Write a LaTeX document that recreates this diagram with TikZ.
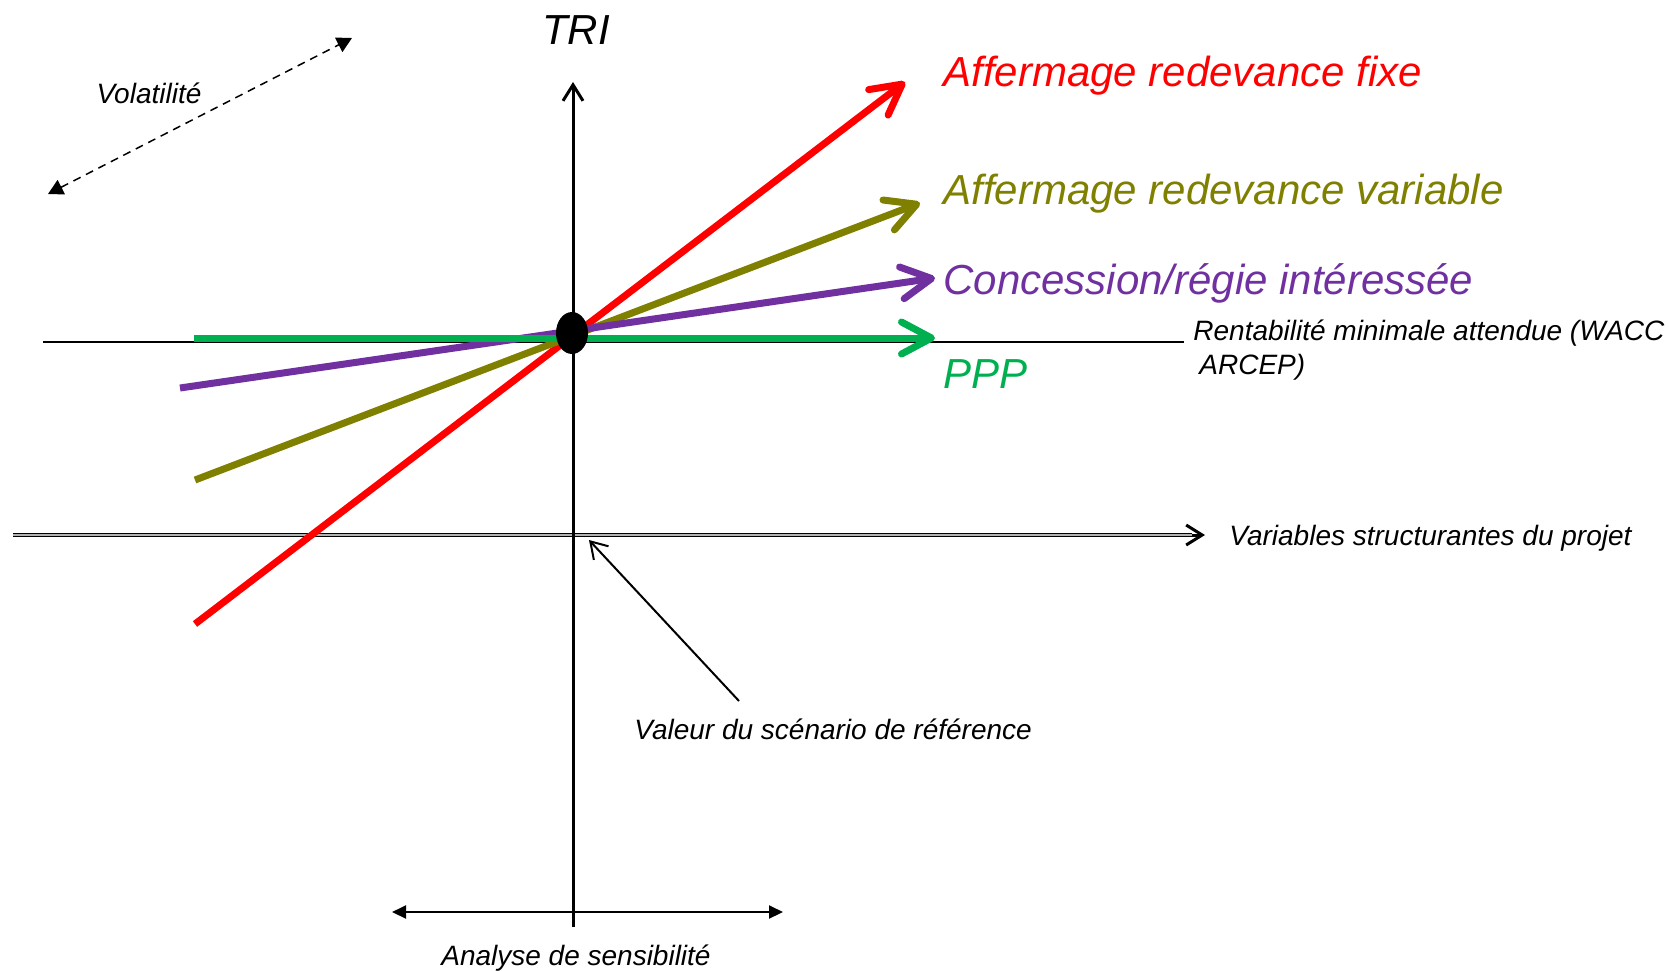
\documentclass[tikz,border=0pt]{standalone}
\usepackage{fontspec}
\setmainfont{Liberation Sans}
\usetikzlibrary{arrows.meta, positioning, shapes.geometric}

\definecolor{fixred}{RGB}{255,0,0}
\definecolor{varolive}{RGB}{128,128,0}
\definecolor{concpurple}{RGB}{112,48,160}
\definecolor{pppgreen}{RGB}{0,176,80}

\begin{document}
\begin{tikzpicture}[
  x=0.5pt, y=-0.5pt,
  big/.style={
    font=\fontsize{21}{25}\selectfont\itshape,
    inner sep=0pt,
    anchor=west
  },
  small/.style={
    font=\fontsize{14}{17}\selectfont\itshape,
    inner sep=0pt,
    align=left
  },
  axis/.style={line width=1.5pt},
  scenario/.style={
    line width=3.5pt,
    -{Straight Barb[length=15pt, width=16pt, line cap=round, line join=round]}
  },
  opentip/.style={-{Straight Barb[length=8pt, width=10pt]}},
  filltip/.style={{Triangle[length=7pt, width=6.5pt]}-{Triangle[length=7pt, width=6.5pt]}}
]
\useasboundingbox (0,0) rectangle (1669,970);

% ============================================================
% Axes
% ============================================================

\coordinate (ybot) at (573,927);
\coordinate (ytop) at (573,82);
\coordinate (xleft) at (13,535);
\coordinate (xend) at (1192,535);
\coordinate (xtip) at (1205,535);
\coordinate (waccl) at (43,342);
\coordinate (waccr) at (1184,342);

\draw[line width=1pt] (waccl) -- (waccr);
\draw[line width=0.6pt, double=gray!60, double distance=0.6pt] (xleft) -- (xend);
\draw[line width=1.5pt, opentip] (xend) -- (xtip);

\node[font=\fontsize{21}{25}\selectfont\itshape, inner sep=0pt] (tri) at (576,30) {TRI};

% ============================================================
% Scenarios
% ============================================================

\coordinate (redstart) at (195,624);
\coordinate (redend) at (905,82);
\coordinate (olivestart) at (195,480);
\coordinate (oliveend) at (920,203);
\coordinate (purplestart) at (180,388);
\coordinate (purpleend) at (935,278);
\coordinate (greenstart) at (194,338);
\coordinate (greenend) at (935,338);

\draw[scenario, fixred] (redstart) -- (redend);
\draw[scenario, varolive] (olivestart) -- (oliveend);
\draw[scenario, concpurple] (purplestart) -- (purpleend);
\draw[scenario, pppgreen] (greenstart) -- (greenend);

\draw[axis, opentip] (ybot) -- (ytop);

\node[ellipse, fill=black, minimum width=16pt, minimum height=21pt, inner sep=0pt] (ref) at (572,333) {};

\node[big, text=fixred] (fixe) at (943,76) {Affermage redevance fixe};
\node[big, text=varolive] (variable) at (943,194) {Affermage redevance variable};
\node[big, text=concpurple] (concession) at (943,283) {Concession/régie intéressée};
\node[big, text=pppgreen] (ppp) at (943,374) {PPP};

\node[small, anchor=west] (wacc) at (1193,350) {Rentabilité minimale attendue (WACC\\\hspace*{3pt}ARCEP)};
\node[small, anchor=west] (variables) at (1229,538) {Variables structurantes du projet};

% ============================================================
% Volatility, reference value, sensitivity
% ============================================================

\coordinate (vola) at (48,194);
\coordinate (volb) at (352,38);
\draw[line width=0.75pt, dash pattern=on 4pt off 3pt,
  {Triangle[length=7.5pt, width=8pt]}-{Triangle[length=7.5pt, width=8pt]}] (vola) -- (volb);
\node[small] (volatilite) at (149,93) {Volatilité};

\node[small, anchor=west] (valeur) at (634,729) {Valeur du scénario de référence};
\coordinate (valtail) at (739,701);
\coordinate (valtip) at (589,540);
\draw[line width=1pt, opentip] (valtail) -- (valtip);

\coordinate (sensl) at (392,912);
\coordinate (sensr) at (783,912);
\draw[line width=1pt, filltip] (sensl) -- (sensr);
\node[small] (sensibilite) at (576,958) {Analyse de sensibilité};

\end{tikzpicture}
\end{document}
